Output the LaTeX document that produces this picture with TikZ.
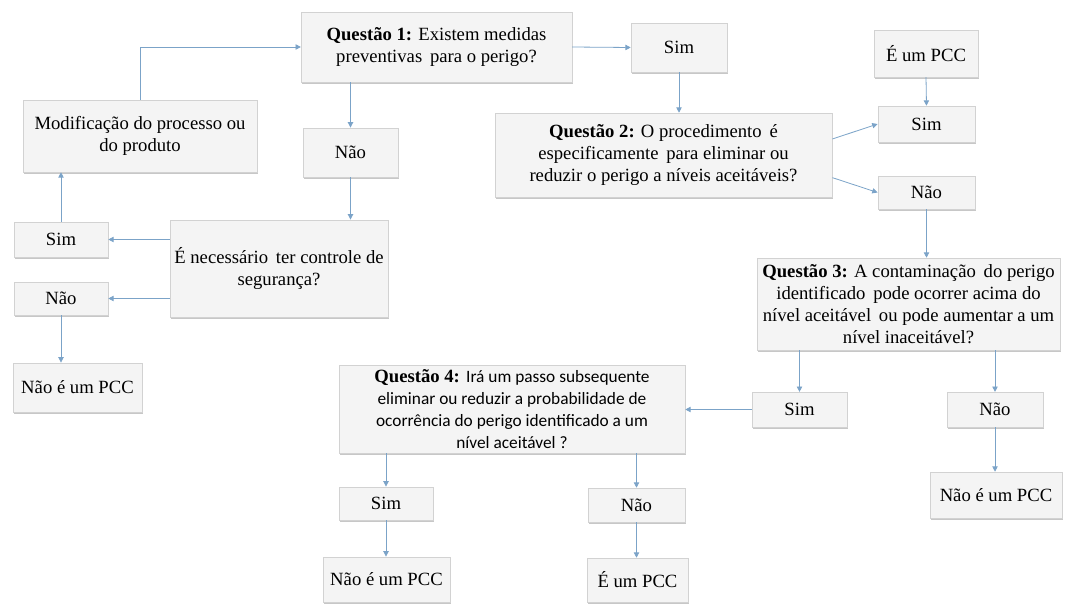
\documentclass[tikz,border=0pt]{standalone}
\usepackage{fontspec}
\setmainfont{Liberation Serif}
\newfontfamily\calfont{Carlito}
\usepackage{xcolor}
\usepackage{tikz}
\usetikzlibrary{arrows.meta,shadows}
\definecolor{arrowblue}{HTML}{7BA3C8}
\definecolor{boxfill}{HTML}{F4F4F4}

\begin{document}
\begin{tikzpicture}[x=0.75pt, y=-0.75pt, >={Triangle[length=4pt,width=4pt]},
  every node/.style={font=\fontsize{14}{16.5}\selectfont},
  box/.style={draw=gray!35, fill=boxfill, align=center, inner sep=2pt,
    drop shadow={shadow xshift=0.8pt, shadow yshift=-1.6pt, fill=gray!55, opacity=0.8}},
  flow/.style={->, draw=arrowblue, line width=0.6pt}]
\useasboundingbox (0,0) rectangle (1081,606);
% left branch
\node[box, minimum width=203pt, minimum height=52.5pt] (q1) at (436.5,47) {\textbf{Questão 1:} Existem medidas\\preventivas\, para o perigo?};
\node[box, minimum width=175.5pt, minimum height=54pt] (modif) at (140,136) {Modificação do processo ou\\do produto};
\node[box, minimum width=71pt, minimum height=37pt] (naoa) at (350.5,152.5) {Não};
\node[box, minimum width=163.5pt, minimum height=73pt] (ctrl) at (279,268.5) {É necessário\, ter controle de\\segurança?};
\node[box, minimum width=70.5pt, minimum height=26pt] (sime) at (61,239.5) {Sim};
\node[box, minimum width=70.5pt, minimum height=25pt] (naoe) at (61,298.5) {Não};
\node[box, minimum width=97pt, minimum height=37pt] (npcce) at (77.5,387.5) {Não é um PCC};
% right branch
\node[box, minimum width=72pt, minimum height=37pt] (sima) at (679,47.5) {Sim};
\node[box, minimum width=78pt, minimum height=35pt] (pcca) at (926,53.5) {É um PCC};
\node[box, minimum width=253pt, minimum height=63pt] (q2) at (663.5,155) {\textbf{Questão 2:} O procedimento\, é\\especificamente\, para eliminar ou\\reduzir o perigo a níveis aceitáveis?};
\node[box, minimum width=73pt, minimum height=27pt] (simb) at (926.5,124) {Sim};
\node[box, minimum width=73pt, minimum height=25pt] (naob) at (926.5,192.5) {Não};
\node[box, minimum width=227pt, minimum height=69pt, inner sep=1pt] (q3) at (908.5,304) {\textbf{Questão 3:} A contaminação\, do perigo\\identificado\, pode ocorrer acima do\\nível aceitável\, ou pode aumentar a um\\nível inaceitável?};
\node[box, minimum width=71pt, minimum height=26pt] (simc) at (799.5,409.5) {Sim};
\node[box, minimum width=72pt, minimum height=26pt] (naoc) at (995,409.5) {Não};
\node[box, minimum width=99pt, minimum height=34.5pt] (npcc3) at (996,495) {Não é um PCC};
\node[box, minimum width=259.5pt, minimum height=66pt, inner sep=1pt] (q4) at (512,409) {\textbf{Questão 4:} {\calfont\fontsize{13}{16.5}\selectfont Irá um passo subsequente}\\{\calfont\fontsize{13}{16.5}\selectfont eliminar ou reduzir a probabilidade de}\\{\calfont\fontsize{13}{16.5}\selectfont ocorrência do perigo identificado a um}\\{\calfont\fontsize{13}{16.5}\selectfont nível aceitável ?}};
\node[box, minimum width=70.5pt, minimum height=25pt] (simd) at (386,503.5) {Sim};
\node[box, minimum width=95pt, minimum height=34pt] (npcc4) at (386.5,579.5) {Não é um PCC};
\node[box, minimum width=73pt, minimum height=25.5pt] (naod) at (636.5,505) {Não};
\node[box, minimum width=76pt, minimum height=33pt] (pccd) at (637.5,580) {É um PCC};
% connectors
\draw[flow] (modif.north) |- (q1.west);
\draw[flow] (q1.east) -- (sima.west);
\draw[flow] (naoa.north |- q1.south) -- (naoa.north);
\draw[flow] (naoa.south) -- (naoa.south |- ctrl.north);
\draw[flow] (ctrl.west |- sime.east) -- (sime.east);
\draw[flow] (ctrl.west |- naoe.east) -- (naoe.east);
\draw[flow] (sime.north) -- (sime.north |- modif.south);
\draw[flow] (naoe.south) -- (naoe.south |- npcce.north);
\draw[flow] (sima.south) -- (sima.south |- q2.north);
\draw[flow] (pcca.south) -- (simb.north);
\draw[flow] ([yshift=12pt]q2.east) -- (simb.west);
\draw[flow] ([yshift=-17pt]q2.east) -- (naob.west);
\draw[flow] (naob.south) -- (naob.south |- q3.north);
\draw[flow] (simc.north |- q3.south) -- (simc.north);
\draw[flow] (naoc.north |- q3.south) -- (naoc.north);
\draw[flow] (naoc.south) -- (naoc.south |- npcc3.north);
\draw[flow] (simc.west) -- (simc.west -| q4.east);
\draw[flow] (simd.north |- q4.south) -- (simd.north);
\draw[flow] (simd.south) -- (simd.south |- npcc4.north);
\draw[flow] (naod.north |- q4.south) -- (naod.north);
\draw[flow] (naod.south) -- (naod.south |- pccd.north);
\end{tikzpicture}
\end{document}
